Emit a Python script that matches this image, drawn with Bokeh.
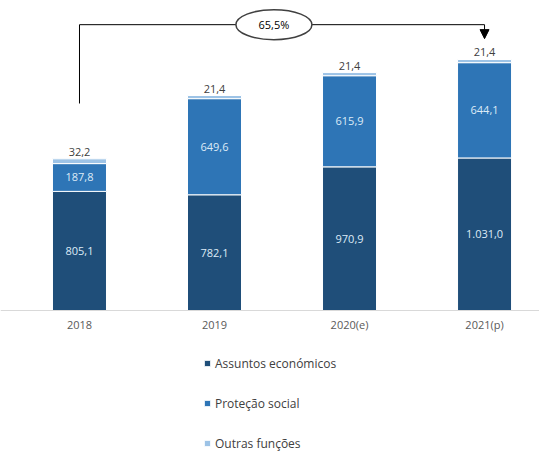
from bokeh.plotting import figure
from bokeh.models import ColumnDataSource, Legend, LegendItem, Range1d, FixedTicker, Arrow, NormalHead
from bokeh.embed import file_html
from bokeh.resources import INLINE
from bokeh.core.properties import value

years = ["2018", "2019", "2020(e)", "2021(p)"]
economicos = [805.1, 782.1, 970.9, 1031.0]
protecao = [187.8, 649.6, 615.9, 644.1]
outras = [32.2, 21.4, 21.4, 21.4]
series_names = ["Assuntos económicos", "Proteção social", "Outras funções"]
colors = ["#1F4E79", "#2E75B6", "#9DC3E6"]

FONT = "Open Sans"


def fmt(v):
    s = f"{v:,.1f}"
    return s.replace(",", "X").replace(".", ",").replace("X", ".")


xs = list(range(len(years)))
b1 = [0.0] * 4
t1 = economicos
t2 = [a + b for a, b in zip(economicos, protecao)]
t3 = [a + b for a, b in zip(t2, outras)]
totals = t3
growth = (totals[-1] / totals[0] - 1) * 100
growth_label = f"{growth:.1f}%".replace(".", ",")

y_top = max(totals) * 1.235
y_bot = -y_top * 0.458

p = figure(frame_width=539, frame_height=452, output_backend="svg", toolbar_location=None,
           x_range=Range1d(-0.585, 3.407), y_range=Range1d(y_bot, y_top),
           y_axis_location=None, min_border_left=0, min_border_right=0,
           min_border_top=0, min_border_bottom=0)
p.outline_line_color = None
p.grid.visible = False
p.background_fill_color = "white"

src = ColumnDataSource(dict(x=xs, b1=b1, t1=t1, t2=t2, t3=t3,
                            l1=[fmt(v) for v in economicos],
                            l2=[fmt(v) for v in protecao],
                            l3=[fmt(v) for v in outras],
                            m1=[(a + b) / 2 for a, b in zip(b1, t1)],
                            m2=[(a + b) / 2 for a, b in zip(t1, t2)]))

r1 = p.vbar(x="x", bottom="b1", top="t1", width=0.4, source=src, fill_color=colors[0], line_color="white", line_width=1)
r2 = p.vbar(x="x", bottom="t1", top="t2", width=0.4, source=src, fill_color=colors[1], line_color="white", line_width=1)
r3 = p.vbar(x="x", bottom="t2", top="t3", width=0.4, source=src, fill_color=colors[2], line_color="white", line_width=1)

p.text(x="x", y="m1", text="l1", source=src, text_align="center", text_baseline="middle",
       text_color="#DDEBF7", text_font=value(FONT), text_font_size="11px")
p.text(x="x", y="m2", text="l2", source=src, text_align="center", text_baseline="middle",
       text_color="#DDEBF7", text_font=value(FONT), text_font_size="11px")
p.text(x="x", y="t3", text="l3", source=src, text_align="center", text_baseline="bottom",
       y_offset=-3, text_color="#404040", text_font=value(FONT), text_font_size="11px")

# growth annotation bracket
bracket_y = y_top * 0.922
start_y = totals[0] + y_top * 0.1785
p.multi_line(xs=[[xs[0], xs[0], xs[-1], xs[-1]]], ys=[[start_y, bracket_y, bracket_y, bracket_y]],
             line_color="black", line_width=1)
p.add_layout(Arrow(x_start=xs[-1], y_start=bracket_y, x_end=xs[-1], y_end=y_top * 0.877,
                   line_color="black", line_width=1,
                   end=NormalHead(size=9, fill_color="black", line_color="black")))
mid_x = (xs[0] + xs[-1]) / 2 - 0.06
p.ellipse(x=[mid_x], y=[bracket_y], width=76, height=30, width_units="screen", height_units="screen",
          fill_color="white", line_color="#404040", line_width=1.5)
p.text(x=[mid_x], y=[bracket_y], text=[growth_label], text_align="center", text_baseline="middle",
       text_color="black", text_font=value(FONT), text_font_size="11px")

ax = p.xaxis[0]
ax.fixed_location = 0
ax.ticker = FixedTicker(ticks=xs)
ax.major_label_overrides = {i: y for i, y in zip(xs, years)}
ax.major_tick_line_color = None
ax.minor_tick_line_color = None
ax.axis_line_color = "#D9D9D9"
ax.major_label_text_color = "#595959"
ax.major_label_text_font = FONT
ax.major_label_text_font_size = "11px"
ax.major_label_standoff = 0

legend = Legend(items=[LegendItem(label=series_names[0], renderers=[r1]),
                       LegendItem(label=series_names[1], renderers=[r2]),
                       LegendItem(label=series_names[2], renderers=[r3])],
                location=(203, 0), orientation="vertical",
                glyph_width=8, glyph_height=8, label_height=18, spacing=22,
                padding=0, margin=0, border_line_color=None, background_fill_alpha=0,
                label_text_font=FONT, label_text_font_size="12px", label_text_color="#404040",
                label_standoff=4)
p.add_layout(legend, "center")

open("out.html", "w").write(file_html(p, INLINE))
